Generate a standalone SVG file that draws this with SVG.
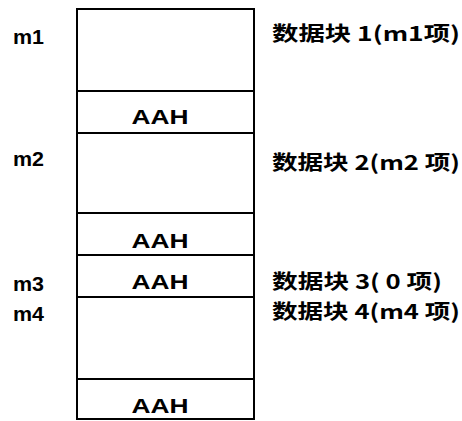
<svg xmlns="http://www.w3.org/2000/svg" width="462" height="421" viewBox="0 0 462 421">
<style>
.cell{fill:#fff;stroke:#000;stroke-width:2}
.aah{font-family:"Liberation Sans","DejaVu Sans",sans-serif;font-weight:bold;font-size:21px;fill:#000;text-anchor:middle}
.lm{font-family:"Liberation Sans","DejaVu Sans",sans-serif;font-weight:bold;font-size:21px;fill:#000}
.lb{font-family:"Noto Sans CJK SC","Liberation Sans",sans-serif;font-weight:bold;font-size:20px;fill:#000}
</style>
<rect width="462" height="421" fill="#fff"/>
<g id="block1"><rect class="cell" x="77" y="9" width="177" height="82"/></g>
<g id="aah1"><rect class="cell" x="77" y="91" width="177" height="42"/><text class="aah" x="160" y="124" textLength="57" lengthAdjust="spacingAndGlyphs">AAH</text></g>
<g id="block2"><rect class="cell" x="77" y="133" width="177" height="80"/></g>
<g id="aah2"><rect class="cell" x="77" y="213" width="177" height="42"/><text class="aah" x="160" y="248" textLength="57" lengthAdjust="spacingAndGlyphs">AAH</text></g>
<g id="aah3"><rect class="cell" x="77" y="255" width="177" height="42"/><text class="aah" x="160" y="289" textLength="57" lengthAdjust="spacingAndGlyphs">AAH</text></g>
<g id="block4"><rect class="cell" x="77" y="297" width="177" height="82"/></g>
<g id="aah4"><rect class="cell" x="77" y="379" width="177" height="40"/><text class="aah" x="160" y="413" textLength="57" lengthAdjust="spacingAndGlyphs">AAH</text></g>
<g id="left-labels">
<text class="lm" x="13" y="44" textLength="31" lengthAdjust="spacingAndGlyphs">m1</text>
<text class="lm" x="13" y="166" textLength="31" lengthAdjust="spacingAndGlyphs">m2</text>
<text class="lm" x="13" y="291" textLength="31" lengthAdjust="spacingAndGlyphs">m3</text>
<text class="lm" x="13" y="321" textLength="31" lengthAdjust="spacingAndGlyphs">m4</text>
</g>
<g id="right-labels">
<text class="lb" x="272" y="41" textLength="188" lengthAdjust="spacingAndGlyphs">数据块 1(m1项)</text>
<text class="lb" x="272" y="170" textLength="188" lengthAdjust="spacingAndGlyphs">数据块 2(m2 项)</text>
<text class="lb" x="272" y="289" textLength="170" lengthAdjust="spacingAndGlyphs">数据块 3( 0 项)</text>
<text class="lb" x="272" y="319" textLength="188" lengthAdjust="spacingAndGlyphs">数据块 4(m4 项)</text>
</g>
</svg>
